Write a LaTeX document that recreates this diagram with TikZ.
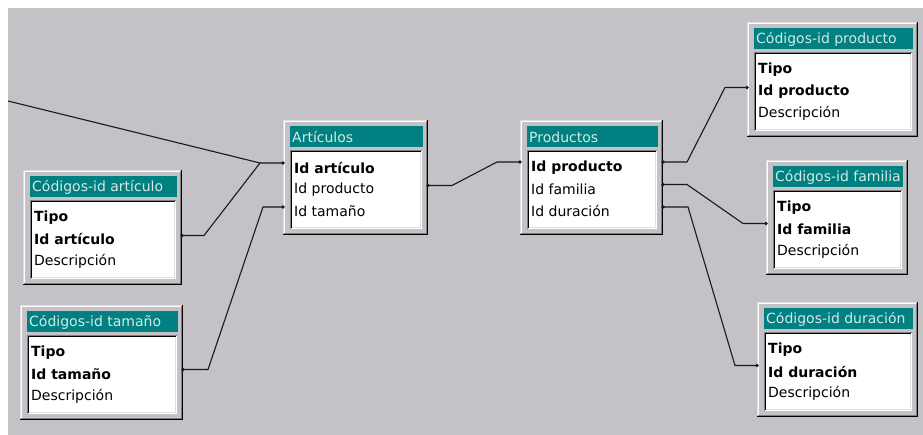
\documentclass[tikz,border=0pt]{standalone}
\usepackage{fontspec}
\setmainfont{DejaVu Sans}
\usetikzlibrary{calc}
\definecolor{bg}{RGB}{196,194,198}
\definecolor{titlebar}{RGB}{0,128,128}
\definecolor{titletext}{RGB}{212,234,230}
\definecolor{shadowgray}{RGB}{128,128,128}
\definecolor{lightedge}{RGB}{223,223,223}
\definecolor{linecol}{RGB}{25,25,25}
\tikzset{
  tblframe/.style={inner sep=0pt, outer sep=0pt, anchor=north west, minimum height=115pt},
  titletxt/.style={font=\fontsize{14}{16}\selectfont, text=titletext, inner sep=0pt, anchor=west},
  rowtxt/.style={font=\fontsize{14}{16}\selectfont, text=black, inner sep=0pt, anchor=west},
  conn/.style={draw=linecol, line width=1.1pt},
  pindot/.style={fill=linecol},
}
\newcommand{\dbtable}[8]{%
  \node[tblframe, minimum width=#4pt] (#1) at (#2,#3) {};
  \fill[black] (#1.north west) rectangle (#1.south east);
  \fill[lightedge] (#1.north west) rectangle ($(#1.south east)+(-1,-1)$);
  \fill[shadowgray] ($(#1.north west)+(1,1)$) rectangle ($(#1.south east)+(-1,-1)$);
  \fill[white] ($(#1.north west)+(1,1)$) rectangle ($(#1.south east)+(-2,-2)$);
  \fill[bg] ($(#1.north west)+(2,2)$) rectangle ($(#1.south east)+(-2,-2)$);
  \fill[titlebar] ($(#1.north west)+(7,6)$) rectangle ($(#1.north east)+(-5,27)$);
  \node[titletxt] (#1-t) at ($(#1.north west)+(9,17)$) {#5};
  \fill[shadowgray] ($(#1.north west)+(7,30)$) rectangle ($(#1.south east)+(-6,-6)$);
  \fill[white] ($(#1.north west)+(8,31)$) rectangle ($(#1.south east)+(-6,-6)$);
  \fill[black] ($(#1.north west)+(8,31)$) rectangle ($(#1.south east)+(-7,-7)$);
  \fill[lightedge] ($(#1.north west)+(9,32)$) rectangle ($(#1.south east)+(-7,-7)$);
  \fill[white] ($(#1.north west)+(9,32)$) rectangle ($(#1.south east)+(-8,-8)$);
  \node[rowtxt] (#1-r1) at ($(#1.north west)+(11,48)$) {#6};
  \node[rowtxt] (#1-r2) at ($(#1.north west)+(11,69.5)$) {#7};
  \node[rowtxt] (#1-r3) at ($(#1.north west)+(11,91)$) {#8};
}
\begin{document}
\begin{tikzpicture}[x=1pt,y=-1pt]
\useasboundingbox (0,0) rectangle (923,435);
\fill[white] (0,0) rectangle (923,435);
\fill[bg] (8,8) rectangle (923,435);

\dbtable{cart}{23}{170}{159}{Códigos-id artículo}{\textbf{Tipo}}{\textbf{Id artículo}}{Descripción}
\dbtable{ctam}{20}{305}{163}{Códigos-id tamaño}{\textbf{Tipo}}{\textbf{Id tamaño}}{Descripción}
\dbtable{art}{283}{120}{145}{Artículos}{\textbf{Id artículo}}{Id producto}{Id tamaño}
\dbtable{prod}{520}{120}{143}{Productos}{\textbf{Id producto}}{Id familia}{Id duración}
\dbtable{cprod}{747}{22}{171}{Códigos-id producto}{\textbf{Tipo}}{\textbf{Id producto}}{Descripción}
\dbtable{cfam}{766}{160}{142}{Códigos-id familia}{\textbf{Tipo}}{\textbf{Id familia}}{Descripción}
\dbtable{cdur}{757}{302}{161}{Códigos-id duración}{\textbf{Tipo}}{\textbf{Id duración}}{Descripción}

\coordinate (offleft) at (8,101);
\coordinate (art-l1) at ($(art.west |- art-r1)+(0,-5)$);
\coordinate (art-l3) at ($(art.west |- art-r3)+(0,-4)$);
\coordinate (art-e2) at ($(art.east |- art-r2)+(0,-4)$);
\coordinate (cart-e2) at ($(cart.east |- cart-r2)+(0,-4)$);
\coordinate (ctam-e2) at ($(ctam.east |- ctam-r2)+(0,-5)$);
\coordinate (prod-l1) at ($(prod.west |- prod-r1)+(0,-6)$);
\coordinate (prod-e1) at ($(prod.east |- prod-r1)+(0,-6)$);
\coordinate (prod-e2) at ($(prod.east |- prod-r2)+(0,-5)$);
\coordinate (prod-e3) at ($(prod.east |- prod-r3)+(0,-4)$);
\coordinate (cprod-l2) at ($(cprod.west |- cprod-r2)+(0,-4)$);
\coordinate (cfam-l2) at ($(cfam.west |- cfam-r2)+(0,-6)$);
\coordinate (cdur-l2) at ($(cdur.west |- cdur-r2)+(0,-6)$);

\draw[conn] (offleft) -- ($(art-l1)+(-23,0)$) -- (art-l1);
\draw[conn] (cart-e2) -- ++(22,0) -- ($(art-l1)+(-23,0)$);
\draw[conn] (ctam-e2) -- ++(25,0) -- ($(art-l3)+(-20,0)$) -- (art-l3);
\draw[conn] (art-e2) -- ++(24,0) -- ($(prod-l1)+(-23,0)$) -- (prod-l1);
\draw[conn] (prod-e1) -- ++(24,0) -- ($(cprod-l2)+(-22,0)$) -- (cprod-l2);
\draw[conn] (prod-e2) -- ++(24,0) -- ($(cfam-l2)+(-23,0)$) -- (cfam-l2);
\draw[conn] (prod-e3) -- ++(25,0) -- ($(cdur-l2)+(-22,0)$) -- (cdur-l2);

\foreach \p in {art-l1,art-l3,art-e2,cart-e2,ctam-e2,prod-l1,prod-e1,prod-e2,prod-e3,cprod-l2,cfam-l2,cdur-l2}
  \fill[pindot] (\p) circle (1.8pt);
\end{tikzpicture}
\end{document}
